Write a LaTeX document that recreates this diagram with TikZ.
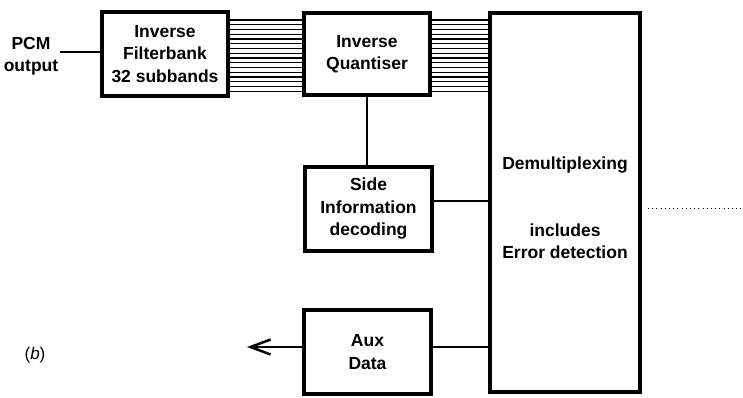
\documentclass[tikz,border=0pt]{standalone}
\usepackage{fontspec}
\setmainfont{Liberation Sans}
\usetikzlibrary{arrows.meta}
\begin{document}
\begin{tikzpicture}[x=1pt,y=-1pt,
  blockbox/.style={draw, line width=4pt, inner sep=0pt, align=center,
    font=\fontsize{17.5}{22.5}\selectfont\bfseries},
  txt/.style={inner sep=0pt, align=center, font=\fontsize{17.5}{22.5}\selectfont\bfseries},
  conn/.style={line width=2.5pt},
  hatch/.style={line width=1.3pt},
  dotline/.style={line width=1pt, dash pattern=on 1pt off 3.2pt}]
\useasboundingbox (0,0) rectangle (743,398);
\node[blockbox, minimum width=126pt, minimum height=84pt] (fb) at (165,54) {Inverse\\Filterbank\\32 subbands};
\node[blockbox, minimum width=126pt, minimum height=82pt] (iq) at (367,54) {Inverse\\Quantiser};
\node[blockbox, minimum width=150pt, minimum height=379pt] (demux) at (565,202.5) {};
\node[txt] (demuxtxt) at (565,208) {Demultiplexing\\[44pt]includes\\Error detection};
\node[blockbox, minimum width=127pt, minimum height=84pt] (side) at (368.5,209) {Side\\Information\\decoding};
\node[blockbox, minimum width=127pt, minimum height=84pt] (aux) at (367.5,352) {Aux\\Data};
\node[txt] (pcm) at (31,56) {PCM\\output};
\node[inner sep=0pt, font=\fontsize{17}{20}\selectfont] (blabel) at (35,355) {(\textit{b})};
\coordinate (auxout) at (247,347);
\coordinate (dotend) at (741,208);
% connectors
\draw[conn] (pcm.east |- 0,52) ++(2,0) -- (fb.west |- 0,52);
\foreach \i in {0,...,15}{
  \draw[hatch] (fb.east |- 0,{20+\i*4.75}) -- (iq.west |- 0,{20+\i*4.75});
  \draw[hatch] (iq.east |- 0,{20+\i*4.75}) -- (demux.west |- 0,{20+\i*4.75});
}
\draw[conn] (iq.south) -- (side.north -| iq.south);
\draw[conn] (side.east |- 0,201) -- (demux.west |- 0,201);
\draw[conn] (demux.west |- 0,347) -- (aux.east |- 0,347);
\draw[conn, -{Straight Barb[length=20pt,width=15pt,line width=2.5pt]}] (aux.west |- 0,347) -- (auxout);
\draw[dotline] ([xshift=6pt]demux.east |- 0,208) -- (dotend);
\end{tikzpicture}
\end{document}
